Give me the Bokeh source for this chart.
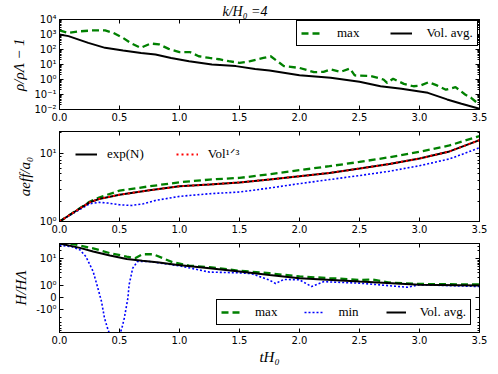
import numpy as np
from bokeh.plotting import figure
from bokeh.layouts import column
from bokeh.models import Range1d, FixedTicker, LinearAxis, LogAxis, Legend, LegendItem
from bokeh.embed import file_html
from bokeh.resources import INLINE

# ---------------- data ----------------
x_ticks = [0.0, 0.5, 1.0, 1.5, 2.0, 2.5, 3.0, 3.5]
x_tick_labels = ["0.0", "0.5", "1.0", "1.5", "2.0", "2.5", "3.0", "3.5"]

# panel 1 : rho / rho_Lambda - 1
t_rho_avg = [0.0, 0.075, 0.24, 0.38, 0.53, 0.68, 0.8, 0.93, 1.08, 1.27, 1.47, 1.63,
             1.75, 2.0, 2.26, 2.5, 2.675, 2.85, 3.07, 3.23, 3.35, 3.5]
rho_avg = [1000, 780, 275, 129, 85, 59, 47, 27.5, 16.6, 10, 7.8, 5.1,
           4.0, 1.95, 1.29, 0.71, 0.355, 0.24, 0.129, 0.047, 0.024, 0.0112]
t_rho_max = [0.0, 0.075, 0.15, 0.27, 0.38, 0.45, 0.53, 0.6, 0.675, 0.76, 0.83, 0.91,
             1.0, 1.09, 1.16, 1.25, 1.33, 1.41, 1.5, 1.59, 1.7, 1.76, 1.87, 2.0,
             2.12, 2.2, 2.26, 2.34, 2.42, 2.46, 2.59, 2.7, 2.73, 2.78, 2.87, 2.95,
             3.01, 3.075, 3.14, 3.22, 3.3, 3.38, 3.43, 3.48, 3.5]
rho_max = [1860, 1260, 1580, 1860, 1860, 1260, 590, 250, 129, 250, 219, 110,
           66, 66, 35.5, 27.5, 22.4, 16.6, 12.9, 16.6, 27.5, 35.5, 7.8, 5.9,
           3.1, 3.2, 4.7, 3.2, 5.4, 1.86, 1.74, 1.0, 0.59, 1.12, 0.51, 0.355,
           0.40, 0.66, 0.42, 0.21, 0.31, 0.10, 0.060, 0.028, 0.04]
rho_ticks = [1e-2, 1e-1, 1e0, 1e1, 1e2, 1e3, 1e4]
rho_tick_labels = ["10⁻²", "10⁻¹", "10⁰", "10¹", "10²", "10³", "10⁴"]
rho_limits = [1e-2, 1e4]

# panel 2 : a_eff / a_0
t_a = [0.0, 0.1, 0.25, 0.33, 0.5, 0.75, 1.0, 1.25, 1.5, 1.75, 2.0, 2.25, 2.5,
       2.75, 3.0, 3.25, 3.5]
a_expN = [1.0, 1.3, 1.91, 2.14, 2.48, 2.87, 3.29, 3.5, 3.75, 4.15, 4.62, 5.17,
          6.0, 7.0, 8.4, 10.7, 15.7]
a_vol = [1.0, 1.3, 1.91, 2.14, 2.48, 2.87, 3.29, 3.5, 3.75, 4.15, 4.62, 5.17,
         6.0, 7.0, 8.4, 10.7, 15.7]
a_max = [1.0, 1.3, 1.95, 2.25, 2.84, 3.29, 3.77, 4.13, 4.37, 4.95, 5.67, 6.5,
         7.5, 8.8, 10.6, 13.1, 18.0]
t_a_min = [0.0, 0.1, 0.25, 0.33, 0.4, 0.5, 0.6, 0.7, 0.8, 1.0, 1.25, 1.5, 1.75,
           2.0, 2.25, 2.5, 2.75, 3.0, 3.25, 3.5]
a_min = [1.0, 1.28, 1.82, 1.91, 1.87, 1.76, 1.72, 1.82, 2.04, 2.34, 2.56, 2.71,
         3.1, 3.6, 4.13, 4.73, 5.48, 6.6, 8.3, 12.1]
a_ticks = [1, 10]
a_tick_labels = ["10⁰", "10¹"]
a_limits = [1, 21]

# panel 3 : H / H_Lambda (symlog axis)
t_H_avg = [0.0, 0.17, 0.28, 0.42, 0.56, 0.69, 0.83, 0.97, 1.25, 1.5, 1.75, 2.0,
           2.5, 3.0, 3.5]
H_avg = [38, 26, 19, 13.5, 10, 8.5, 7.4, 6.0, 4.5, 3.4, 2.5, 1.9, 1.42, 1.07, 1.0]
t_H_max = [0.0, 0.1, 0.17, 0.28, 0.42, 0.56, 0.63, 0.69, 0.78, 0.86, 0.94, 1.08,
           1.25, 1.5, 1.75, 2.0, 2.25, 2.4, 2.5, 2.6, 2.75, 3.0, 3.25, 3.5]
H_max = [38, 37, 32, 25, 16.5, 12.3, 10.7, 15, 15, 10.7, 7.6, 5.6, 4.9, 3.6, 2.9,
         2.2, 1.9, 1.75, 1.6, 1.7, 1.3, 1.15, 1.12, 1.1]
t_H_min = [0.0, 0.1, 0.17, 0.22, 0.28, 0.32, 0.35, 0.375, 0.40, 0.43, 0.46, 0.49,
           0.52, 0.54, 0.57, 0.58, 0.61, 0.65, 0.75, 1.0, 1.25, 1.5, 1.6, 1.75,
           1.8, 1.87, 2.0, 2.1, 2.2, 2.5, 2.9, 3.0, 3.5]
H_min = [33, 29, 22, 12.3, 3.4, 0.78, -0.33, -2.1, -5, -12, -15, -12, -5, -2.1,
         -0.05, 1.07, 4.5, 8, 8, 5.5, 3.2, 3.0, 2.8, 1.6, 1.2, 1.7, 1.64, 0.92,
         1.4, 1.23, 0.86, 1.07, 0.92]
H_ticks = [10, 1, 0, -1]
H_tick_labels = ["10¹", "10⁰", "0", "-10⁰"]
H_minor_values = [2, 3, 4, 5, 6, 7, 8, 9, 20, 30, -2, -3, -4, -5, -6, -7]
H_limits = [-7.3, 38]

# ---------------- styling ----------------
GREEN = "#008000"
BLUE = "#0000ff"
RED = "#ff0000"
BLACK = "#000000"
TICK_FONT = "DejaVu Sans"
SERIF = "Liberation Serif"
SYM_A = 0.45  # width of linear part of the symlog axis (in decades)


def symlog(v):
    v = np.asarray(v, dtype=float)
    av = np.abs(v)
    return np.where(av >= 1, np.sign(v) * (SYM_A + np.log10(np.maximum(av, 1e-12))), SYM_A * v)


def log_minor(lo, hi):
    return [k * 10.0 ** e for e in range(lo, hi) for k in range(2, 10)]


def style_axis(ax, ticks, minor, labels, show):
    ax.ticker = FixedTicker(ticks=[float(t) for t in ticks], minor_ticks=[float(m) for m in minor])
    ax.major_tick_in = 4
    ax.major_tick_out = 0
    ax.minor_tick_in = 2
    ax.minor_tick_out = 0
    ax.axis_line_color = BLACK
    ax.major_tick_line_color = BLACK
    ax.minor_tick_line_color = BLACK
    ax.major_label_text_font = TICK_FONT
    if show:
        ax.major_label_overrides = {float(t): l for t, l in zip(ticks, labels)}
        ax.major_label_text_color = BLACK
        ax.major_label_text_font_size = "10px"
        ax.major_label_standoff = 3
    else:
        ax.major_label_text_color = None
        ax.major_label_text_alpha = 0
        ax.major_label_text_font_size = "0px"
        ax.major_label_standoff = 0


def label_axis(ax, text, standoff=4):
    ax.axis_label = text
    ax.axis_label_text_font = SERIF
    ax.axis_label_text_font_style = "italic"
    ax.axis_label_text_font_size = "15px"
    ax.axis_label_text_color = BLACK
    ax.axis_label_standoff = standoff


def make_panel(y_type, limits, yt, yminor, ylabels, frame_h, top, bottom, title=None):
    p = figure(frame_width=420, frame_height=frame_h,
               x_range=Range1d(0, 3.5), y_range=Range1d(*limits),
               y_axis_type=y_type, output_backend="svg", toolbar_location=None,
               min_border_left=59, min_border_right=17,
               min_border_top=top, min_border_bottom=bottom, title=title)
    p.xgrid.visible = False
    p.ygrid.visible = False
    p.outline_line_color = BLACK
    p.outline_line_alpha = 1
    p.background_fill_color = "white"
    p.border_fill_color = "white"
    xb = p.below[0]
    yl = p.left[0]
    style_axis(xb, x_ticks, [], x_tick_labels, True)
    style_axis(yl, yt, yminor, ylabels, True)
    xa = LinearAxis()
    style_axis(xa, x_ticks, [], x_tick_labels, False)
    p.add_layout(xa, "above")
    yr = LogAxis() if y_type == "log" else LinearAxis()
    style_axis(yr, yt, yminor, ylabels, False)
    p.add_layout(yr, "right")
    return p, xb, yl


def make_legend(items, loc, spacing, glyph_w, standoff, border=True):
    lg = Legend(items=items, orientation="horizontal", location=loc,
                spacing=spacing, glyph_width=glyph_w, glyph_height=12,
                label_height=12, label_standoff=standoff, padding=4, margin=0,
                label_text_font=SERIF, label_text_font_size="13px",
                label_text_color=BLACK,
                background_fill_color="white", background_fill_alpha=1 if border else 0)
    if border:
        lg.border_line_color = BLACK
        lg.border_line_width = 1
        lg.border_line_alpha = 1
    else:
        lg.border_line_color = None
    return lg


# ---- panel 1 ----
p1, x1, y1 = make_panel("log", rho_limits, rho_ticks, log_minor(-2, 4), rho_tick_labels,
                        90, 0, 22, title="k/H₀ =4")
p1.title.text_font = SERIF
p1.title.text_font_style = "italic"
p1.title.text_font_size = "14px"
p1.title.text_color = BLACK
p1.title.align = "left"
p1.title.offset = 163
p1.title.standoff = 2
label_axis(y1, "ρ/ρΛ − 1")
r1m = p1.line(t_rho_max, rho_max, line_color=GREEN, line_width=2.3, line_dash="7 4")
r1a = p1.line(t_rho_avg, rho_avg, line_color=BLACK, line_width=2)
p1.add_layout(make_legend([LegendItem(label="max", renderers=[r1m]),
                           LegendItem(label="Vol. avg.", renderers=[r1a])],
                          (237, 63), 31, 22, 14))

# ---- panel 2 ----
p2, x2, y2 = make_panel("log", a_limits, a_ticks, [2, 3, 4, 5, 6, 7, 8, 9, 20], a_tick_labels,
                        90, 0, 22)
label_axis(y2, "aeff/a₀")
r2max = p2.line(t_a, a_max, line_color=GREEN, line_width=2.3, line_dash="7 4")
r2min = p2.line(t_a_min, a_min, line_color=BLUE, line_width=1.6, line_dash="2 2")
r2e = p2.line(t_a, a_expN, line_color=BLACK, line_width=2)
r2v = p2.line(t_a, a_vol, line_color=RED, line_width=2, line_dash="2 3")
p2.add_layout(make_legend([LegendItem(label="exp(N)", renderers=[r2e]),
                           LegendItem(label="Vol¹ᐟ³", renderers=[r2v])],
                          (16, 59), 32, 22, 10, border=False))

# ---- panel 3 ----
p3, x3, y3 = make_panel("linear", list(symlog(H_limits)), list(symlog(H_ticks)),
                        list(symlog(H_minor_values)), H_tick_labels, 89, 0, 40)
label_axis(y3, "H/HΛ")
label_axis(x3, "tH₀", standoff=2)
r3max = p3.line(t_H_max, symlog(H_max), line_color=GREEN, line_width=2.3, line_dash="7 4")
r3min = p3.line(t_H_min, symlog(H_min), line_color=BLUE, line_width=1.6, line_dash="2 2")
r3a = p3.line(t_H_avg, symlog(H_avg), line_color=BLACK, line_width=2)
p3.add_layout(make_legend([LegendItem(label="max", renderers=[r3max]),
                           LegendItem(label="min", renderers=[r3min]),
                           LegendItem(label="Vol. avg.", renderers=[r3a])],
                          (157, 7), 27, 20, 14))

layout = column(p1, p2, p3, spacing=0)
open("out.html", "w").write(file_html(layout, INLINE))
